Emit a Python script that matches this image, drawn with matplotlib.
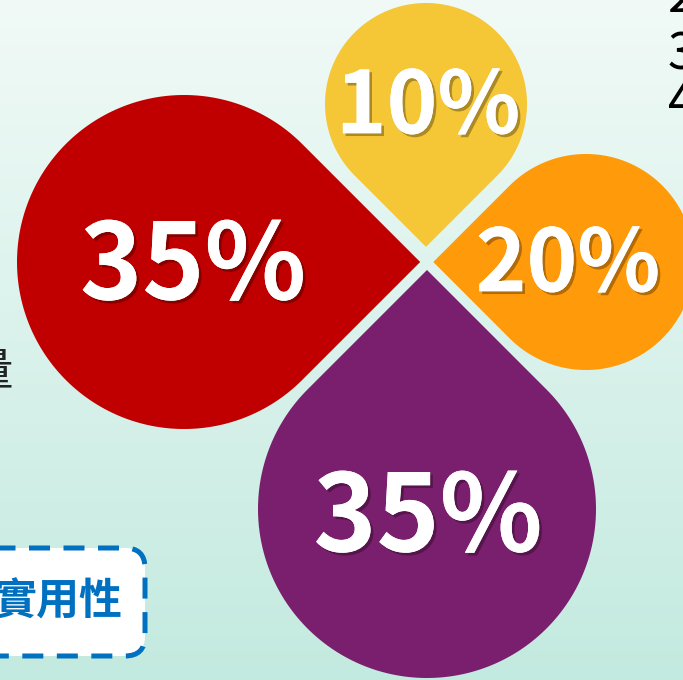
import numpy as np
import matplotlib
matplotlib.use("Agg")
import matplotlib.pyplot as plt
from matplotlib.patches import Polygon, FancyBboxPatch
import matplotlib.patheffects as pe

plt.rcParams['font.family'] = ['Noto Sans CJK TC', 'DejaVu Sans']

# data
labels = ["35%", "10%", "20%", "35%"]
colors = ["#C00000", "#F5C636", "#FF9A0A", "#7A1F6D"]
# drop layout: circle centre (px), radius, tip direction (deg, pointing to centre)
centres = [(184, 262), (426, 104), (586, 262), (427, 509)]
radii = [167, 101, 108, 169]
tip_dirs = [0, 90, 180, -90]  # image coords (y down)
label_pos = [(193, 268), (428, 108), (568, 266), (428, 520)]
label_size = [76, 62, 62, 77]

fig = plt.figure(figsize=(6.83, 6.80), dpi=100)
ax = fig.add_axes([0, 0, 1, 1])
ax.set_xlim(0, 683)
ax.set_ylim(680, 0)
ax.axis("off")

# background gradient
grad = np.linspace(0, 1, 256).reshape(-1, 1)
top = np.array([0.945, 0.980, 0.968])
bot = np.array([0.765, 0.918, 0.878])
img = top + (bot - top) * grad[:, :, None]
ax.imshow(img, extent=[0, 683, 680, 0], aspect="auto", zorder=0)


def teardrop(cx, cy, r, ang):
    a = np.deg2rad(ang)
    d = r * np.sqrt(2)
    tip = (cx + d * np.cos(a), cy + d * np.sin(a))
    t = np.linspace(a + np.pi / 4, a + 2 * np.pi - np.pi / 4, 200)
    pts = [tip] + list(zip(cx + r * np.cos(t), cy + r * np.sin(t)))
    return pts


for c, r, ang, col in zip(centres, radii, tip_dirs, colors):
    ax.add_patch(Polygon(teardrop(c[0], c[1], r, ang), closed=True,
                         facecolor=col, edgecolor="none", zorder=2))

shadow = [pe.withSimplePatchShadow(offset=(2, -2), shadow_rgbFace="black", alpha=0.3),
          pe.Normal()]
for lab, (x, y), fs in zip(labels, label_pos, label_size):
    ax.text(x, y, lab, ha="center", va="center", fontsize=fs, fontweight="bold",
            color="white", zorder=3, path_effects=shadow)

# partial left text
ax.text(13, 371, "量", ha="right", va="center", fontsize=32, color="#222222", zorder=3)

# dashed box bottom-left
box = FancyBboxPatch((-60, 548), 205, 108, boxstyle="round,pad=0,rounding_size=20",
                     facecolor="white", edgecolor="#0070C0", lw=3.6,
                     linestyle=(0, (4.2, 2.7)), zorder=2)
ax.add_patch(box)
ax.text(122, 602, "實用性", ha="right", va="center", fontsize=31, fontweight="bold",
        color="#0070C0", zorder=3)

# partial numbers top-right
for txt, y in zip(["2", "3", "4"], [12, 70, 118]):
    ax.text(668, y, txt, ha="left", va="baseline", fontsize=36, color="black", zorder=3)

fig.savefig("out.png", dpi=100)
